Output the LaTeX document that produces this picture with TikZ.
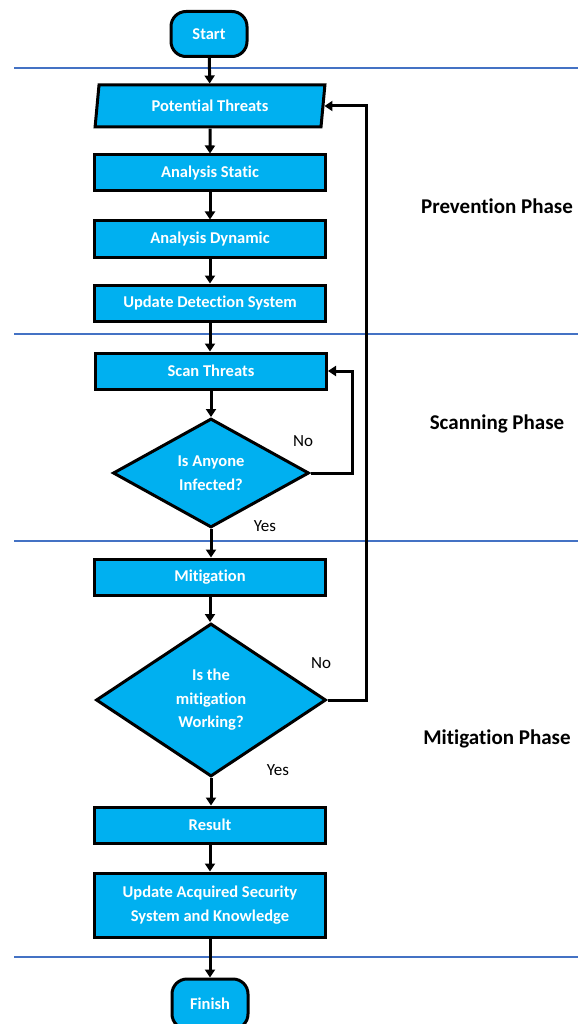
\documentclass[tikz,border=0pt]{standalone}
\usepackage{fontspec}
\setmainfont{Carlito}[Ligatures=NoCommon]
\usetikzlibrary{shapes.geometric,arrows.meta}
\definecolor{boxblue}{HTML}{00B0F0}
\definecolor{lineblue}{HTML}{4472C4}
\begin{document}
\begin{tikzpicture}[x=1pt,y=-1pt,
  base/.style={draw=black,line width=3pt,fill=boxblue,text=white,
    font=\bfseries\fontsize{16.5}{24}\selectfont,align=center,inner sep=0pt},
  box/.style={base,rectangle,minimum width=231pt,minimum height=36pt},
  term/.style={base,rectangle,rounded corners=15pt,minimum width=76pt,minimum height=45pt},
  para/.style={base,trapezium,trapezium left angle=80,trapezium right angle=100,
    trapezium stretches=true,minimum width=230pt,minimum height=42pt},
  dec/.style={base,diamond,font=\bfseries\fontsize{16.5}{23.5}\selectfont},
  arr/.style={draw=black,line width=3pt,-{Triangle[length=8pt,width=10pt]}},
  sep/.style={draw=lineblue,line width=1.8pt},
  lbl/.style={font=\fontsize{17}{20}\selectfont,inner sep=0pt},
  phase/.style={font=\bfseries\fontsize{21}{24}\selectfont,inner sep=0pt}
]
\useasboundingbox (0,0) rectangle (585,1024);
\clip (0,0) rectangle (585,1024);
\fill[white] (0,0) rectangle (585,1024);
% separators
\draw[sep] (14,68) -- (578,68);
\draw[sep] (14,334) -- (578,334);
\draw[sep] (14,541) -- (578,541);
\draw[sep] (14,957) -- (578,957);
% nodes
\node[term] (start) at (209,34) {Start};
\node[para] (pt) at (210,106) {Potential Threats};
\node[box] (as) at (210,173) {Analysis Static};
\node[box] (ad) at (210,239) {Analysis Dynamic};
\node[box] (uds) at (210,303) {Update Detection System};
\node[box] (scan) at (211,371) {Scan Threats};
\node[dec,minimum width=196pt,minimum height=109pt] (d1) at (211,473) {Is Anyone\\Infected?};
\node[box] (mit) at (210,577) {Mitigation};
\node[dec,minimum width=230pt,minimum height=153pt] (d2) at (211,700) {Is the\\mitigation\\Working?};
\node[box] (res) at (210,825) {Result};
\node[box,minimum height=64pt] (uas) at (210,905) {Update Acquired Security\\System and Knowledge};
\node[term,minimum height=50pt] (fin) at (210,1004) {Finish};
% labels
\node[lbl] (no1) at (303,441) {No};
\node[lbl] (yes1) at (265,526) {Yes};
\node[lbl] (no2) at (321,663) {No};
\node[lbl] (yes2) at (278,770) {Yes};
\node[phase] (p1) at (497,206) {Prevention Phase};
\node[phase] (p2) at (497,424) {Scanning Phase};
\node[phase] (p3) at (497,739) {Mitigation Phase};
% connectors
\draw[arr] (start) -- (pt);
\draw[arr] (pt) -- (as);
\draw[arr] (as) -- (ad);
\draw[arr] (ad) -- (uds);
\draw[arr] (uds.south) -- (scan.north -| uds.south);
\draw[arr] (scan.south) -- (d1.north);
\draw[arr] (d1.south) -- (mit.north -| d1.south);
\draw[arr] (mit.south) -- (d2.north -| mit.south);
\draw[arr] (d2.south) -- (res.north -| d2.south);
\draw[arr] (res) -- (uas);
\draw[arr] (uas) -- (fin);
\coordinate (r1) at (352,420);
\coordinate (r2) at (366,400);
\draw[arr] (d1.east) -- (d1.east -| r1) |- (scan.east);
\draw[arr] (d2.east) -- (d2.east -| r2) |- (pt.east);
\end{tikzpicture}
\end{document}
